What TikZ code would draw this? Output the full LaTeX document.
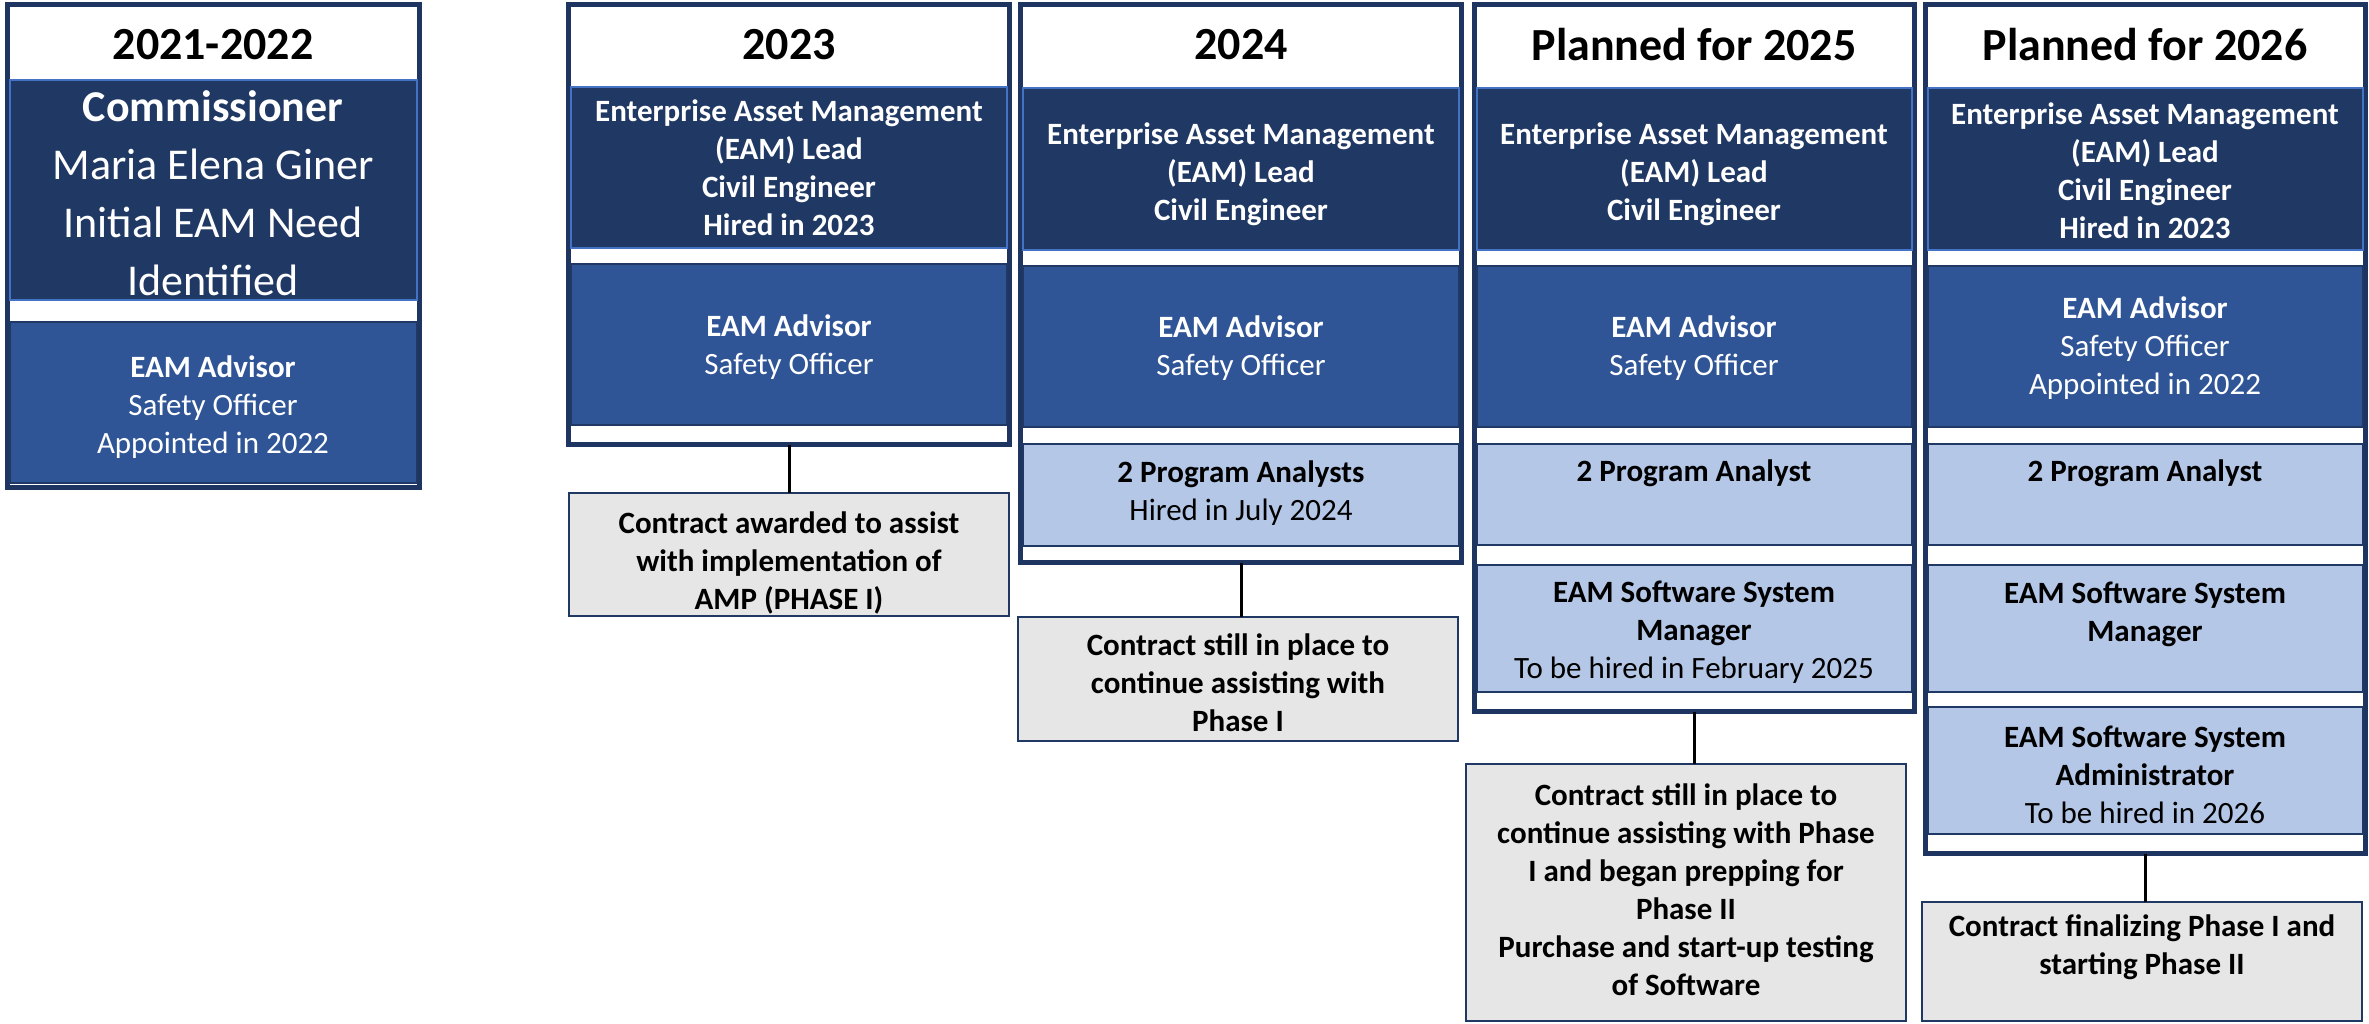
\documentclass[tikz,border=0pt]{standalone}
\usepackage{fontspec}
\setmainfont{Carlito}
\definecolor{navyc}{HTML}{203864}
\definecolor{framec}{HTML}{1F3561}
\definecolor{midc}{HTML}{2F5597}
\definecolor{lightc}{HTML}{B4C7E7}
\definecolor{edgec}{HTML}{4472C4}
\definecolor{grayc}{HTML}{E7E6E6}
\begin{document}
\begin{tikzpicture}[x=1pt,y=-1pt,
  frame/.style={draw=framec, line width=5pt, fill=white, inner sep=0pt, outer sep=0pt, anchor=north west},
  bandA/.style={fill=navyc, draw=edgec, line width=1.5pt, inner sep=0pt, outer sep=0pt, anchor=north west},
  bandB/.style={fill=midc, draw=navyc, line width=1.5pt, inner sep=0pt, outer sep=0pt, anchor=north west},
  bandC/.style={fill=lightc, draw=navyc, line width=1.5pt, inner sep=0pt, outer sep=0pt, anchor=north west},
  contract/.style={fill=grayc, draw=navyc, line width=2pt, inner sep=0pt, outer sep=0pt, anchor=north west},
  hdr/.style={font=\fontsize{46}{55}\selectfont\bfseries, inner sep=0pt},
  txt/.style={font=\fontsize{31}{38}\selectfont, align=center, inner sep=0pt},
  txtb/.style={font=\fontsize{31}{38}\selectfont\bfseries, align=center, inner sep=0pt},
  conn/.style={draw=black, line width=3pt}
]
\useasboundingbox (0,0) rectangle (2369,1024);

% ---------- Column 1: 2021-2022 ----------
\node[frame, minimum width=412pt, minimum height=483pt] (f1) at (7.5,4.5) {};
\node[bandA, minimum width=407pt, minimum height=220pt] (n1) at (10,80) {};
\node[bandB, minimum width=407pt, minimum height=161pt] (m1) at (10,322) {};
\node[hdr] (h1) at (213,45) {2021-2022};
\node[txt, text=white, font=\fontsize{44}{58}\selectfont] (t1a) at (213,193) {\textbf{Commissioner}\\Maria Elena Giner\\Initial EAM Need\\Identified};
\node[txt, text=white] (t1b) at (213,407) {\textbf{EAM Advisor}\\Safety Officer\\Appointed in 2022};

% ---------- Column 2: 2023 ----------
\node[frame, minimum width=441pt, minimum height=440pt] (f2) at (568.5,4.5) {};
\node[bandA, minimum width=436pt, minimum height=161pt] (n2) at (571,87) {};
\node[bandB, minimum width=436pt, minimum height=161pt] (m2) at (571,264) {};
\node[hdr] (h2) at (789,45) {2023};
\node[txtb, text=white] (t2a) at (789,168) {Enterprise Asset Management\\(EAM) Lead\\Civil Engineer\\Hired in 2023};
\node[txt, text=white] (t2b) at (789,347) {\textbf{EAM Advisor}\\Safety Officer};
\node[contract, minimum width=440pt, minimum height=123pt] (c2) at (569,493) {};
\node[txtb] (k2) at (789,563) {Contract awarded to assist\\with implementation of\\AMP (PHASE I)};

% ---------- Column 3: 2024 ----------
\node[frame, minimum width=441pt, minimum height=558pt] (f3) at (1020.5,4.5) {};
\node[bandA, minimum width=436pt, minimum height=162pt] (n3) at (1023,88) {};
\node[bandB, minimum width=436pt, minimum height=161pt] (m3) at (1023,266) {};
\node[bandC, minimum width=436pt, minimum height=102pt] (l3) at (1023,444) {};
\node[hdr] (h3) at (1241,45) {2024};
\node[txtb, text=white] (t3a) at (1241,174) {Enterprise Asset Management\\(EAM) Lead\\Civil Engineer};
\node[txt, text=white] (t3b) at (1241,348) {\textbf{EAM Advisor}\\Safety Officer};
\node[txt] (t3c) at (1241,493) {\textbf{2 Program Analysts}\\Hired in July 2024};
\node[contract, minimum width=440pt, minimum height=124pt] (c3) at (1018,617) {};
\node[txtb] (k3) at (1238,683) {Contract still in place to\\continue assisting with\\Phase I};

% ---------- Column 4: Planned for 2025 ----------
\node[frame, minimum width=440pt, minimum height=707pt] (f4) at (1474.5,4.5) {};
\node[bandA, minimum width=435pt, minimum height=162pt] (n4) at (1477,88) {};
\node[bandB, minimum width=435pt, minimum height=161pt] (m4) at (1477,266) {};
\node[bandC, minimum width=435pt, minimum height=101pt] (l4a) at (1477,444) {};
\node[bandC, minimum width=435pt, minimum height=127pt] (l4b) at (1477,565) {};
\node[hdr] (h4) at (1694,45) {Planned for 2025};
\node[txtb, text=white] (t4a) at (1694,174) {Enterprise Asset Management\\(EAM) Lead\\Civil Engineer};
\node[txt, text=white] (t4b) at (1694,348) {\textbf{EAM Advisor}\\Safety Officer};
\node[txtb] (t4c) at (1694,473) {2 Program Analyst};
\node[txt] (t4d) at (1694,632) {\textbf{EAM Software System}\\\textbf{Manager}\\To be hired in February 2025};
\node[contract, minimum width=440pt, minimum height=257pt] (c4) at (1466,764) {};
\node[txtb] (k4) at (1686,890) {Contract still in place to\\continue assisting with Phase\\I and began prepping for\\Phase II\\Purchase and start-up testing\\of Software};

% ---------- Column 5: Planned for 2026 ----------
\node[frame, minimum width=440pt, minimum height=849pt] (f5) at (1925.5,4.5) {};
\node[bandA, minimum width=435pt, minimum height=162pt] (n5) at (1928,88) {};
\node[bandB, minimum width=435pt, minimum height=161pt] (m5) at (1928,266) {};
\node[bandC, minimum width=435pt, minimum height=101pt] (l5a) at (1928,444) {};
\node[bandC, minimum width=435pt, minimum height=127pt] (l5b) at (1928,565) {};
\node[bandC, minimum width=435pt, minimum height=127pt] (l5c) at (1928,707) {};
\node[hdr] (h5) at (2145,45) {Planned for 2026};
\node[txtb, text=white] (t5a) at (2145,171) {Enterprise Asset Management\\(EAM) Lead\\Civil Engineer\\Hired in 2023};
\node[txt, text=white] (t5b) at (2145,348) {\textbf{EAM Advisor}\\Safety Officer\\Appointed in 2022};
\node[txtb] (t5c) at (2145,473) {2 Program Analyst};
\node[txtb] (t5d) at (2145,614) {EAM Software System\\Manager};
\node[txt] (t5e) at (2145,775) {\textbf{EAM Software System}\\\textbf{Administrator}\\To be hired in 2026};
\node[contract, minimum width=440pt, minimum height=119pt] (c5) at (1922,902) {};
\node[txtb] (k5) at (2142,947) {Contract finalizing Phase I and\\starting Phase II};

% ---------- Connectors ----------
\draw[conn] (f2.south) -- (f2.south |- c2.north);
\draw[conn] (f3.south) -- (f3.south |- c3.north);
\draw[conn] (f4.south) -- (f4.south |- c4.north);
\draw[conn] (f5.south) -- (f5.south |- c5.north);
\end{tikzpicture}
\end{document}
